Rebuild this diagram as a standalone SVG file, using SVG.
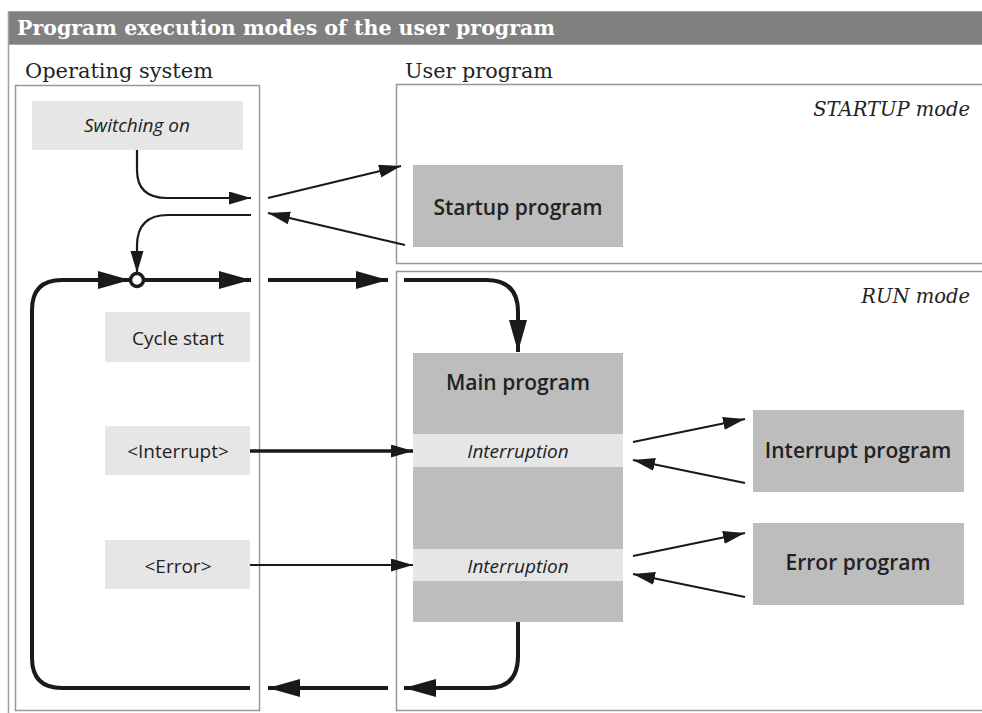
<svg xmlns="http://www.w3.org/2000/svg" width="982" height="713" viewBox="0 0 982 713">
<defs>
<style>
.frame{fill:none;stroke:#a0a0a0;stroke-width:1.5}
.box{fill:none;stroke:#999;stroke-width:1.5}
.light{fill:#e6e6e6}
.dark{fill:#bdbdbd}
.band{fill:#e6e6e6}
.serif{font-family:"DejaVu Serif","Liberation Serif",serif;fill:#222}
.sans{font-family:"Open Sans","Noto Sans","Liberation Sans",sans-serif;fill:#222}
.title{font-family:"DejaVu Serif","Liberation Serif",serif;font-weight:bold;fill:#fff;font-size:21px}
.thin{fill:none;stroke:#1a1a1a;stroke-width:2.2;marker-end:url(#ah)}
.mid{fill:none;stroke:#1a1a1a;stroke-width:3.5;marker-end:url(#ah)}
.thick{fill:none;stroke:#1a1a1a;stroke-width:4;marker-end:url(#ahb)}
.reg{font-size:19px}
.bold{font-size:21px;font-weight:600}
</style>
<marker id="ah" markerUnits="userSpaceOnUse" markerWidth="24" markerHeight="14" refX="22" refY="6.5" orient="auto">
<path d="M0,0 L22,6.5 L0,13 z" fill="#1a1a1a"/>
</marker>
<marker id="ahb" markerUnits="userSpaceOnUse" markerWidth="34" markerHeight="20" refX="32" refY="9" orient="auto">
<path d="M0,0 L32,9 L0,18 z" fill="#1a1a1a"/>
</marker>
</defs>
<rect width="982" height="713" fill="#fff"/>

<g id="frame">
<rect x="8.5" y="11.5" width="980" height="33" fill="#808080" stroke="#a8a8a8" stroke-width="1"/>
<line x1="8.5" y1="11" x2="8.5" y2="713" class="frame"/>
<text x="17" y="35" class="title" textLength="538" lengthAdjust="spacingAndGlyphs">Program execution modes of the user program</text>
</g>

<g id="os">
<rect x="15.5" y="85.5" width="244" height="625" class="box"/>
<text x="25" y="78" class="serif" font-size="20" textLength="188" lengthAdjust="spacingAndGlyphs">Operating system</text>
</g>

<g id="startup-mode">
<rect x="396.5" y="84.5" width="600" height="179" class="box"/>
<text x="405" y="78" class="serif" font-size="20" textLength="148" lengthAdjust="spacingAndGlyphs">User program</text>
<text x="970" y="116" class="serif" font-size="19.5" font-style="italic" text-anchor="end">STARTUP mode</text>
</g>

<g id="run-mode">
<rect x="396.5" y="271.5" width="600" height="439" class="box"/>
<text x="970" y="303" class="serif" font-size="19.5" font-style="italic" text-anchor="end">RUN mode</text>
</g>

<g id="switching-on">
<rect x="32" y="101" width="211" height="49" class="light"/>
<text x="137" y="132" class="sans reg" font-style="italic" text-anchor="middle">Switching on</text>
</g>

<g id="startup-program">
<rect x="413" y="165" width="210" height="82" class="dark"/>
<text x="518" y="215" class="sans bold" text-anchor="middle">Startup program</text>
</g>

<g id="cycle-start">
<rect x="105" y="312" width="145" height="50" class="light"/>
<text x="178" y="345" class="sans reg" text-anchor="middle">Cycle start</text>
</g>

<g id="interrupt">
<rect x="105" y="426" width="145" height="49" class="light"/>
<text x="178" y="458" class="sans reg" text-anchor="middle">&lt;Interrupt&gt;</text>
</g>

<g id="error">
<rect x="105" y="540" width="145" height="49" class="light"/>
<text x="178" y="573" class="sans reg" text-anchor="middle">&lt;Error&gt;</text>
</g>

<g id="main-program">
<rect x="413" y="353" width="210" height="269" class="dark"/>
<rect x="413" y="434" width="210" height="33" class="band"/>
<rect x="413" y="549" width="210" height="32" class="band"/>
<text x="518" y="390" class="sans bold" text-anchor="middle">Main program</text>
<text x="518" y="458" class="sans reg" font-style="italic" text-anchor="middle">Interruption</text>
<text x="518" y="573" class="sans reg" font-style="italic" text-anchor="middle">Interruption</text>
</g>

<g id="interrupt-program">
<rect x="753" y="410" width="211" height="82" class="dark"/>
<text x="858" y="458" class="sans bold" text-anchor="middle">Interrupt program</text>
</g>

<g id="error-program">
<rect x="753" y="523" width="211" height="82" class="dark"/>
<text x="858" y="570" class="sans bold" text-anchor="middle">Error program</text>
</g>

<g id="connectors">
<path d="M137,150 V170 Q137,198 167,198 H251" class="thin"/>
<path d="M268,198 L401,166" class="thin"/>
<path d="M405,245 L268,213" class="thin"/>
<path d="M251,215 H168 Q137,215 137,246 V273" class="thin"/>
<path d="M144,280 H251" class="thick"/>
<path d="M268,280 H388" class="thick"/>
<path d="M404,280 H486 Q518,280 518,312 V352" class="thick"/>
<path d="M518,622 V656 Q518,688 488,688 H404" class="thick"/>
<path d="M388,688 H268" class="thick"/>
<path d="M250,688 H62 Q32,688 32,658 V310 Q32,280 62,280 H130" class="thick"/>
<circle cx="137" cy="280" r="6.5" fill="#fff" stroke="#1a1a1a" stroke-width="3.5"/>
<path d="M250,451 H413" class="mid"/>
<path d="M250,565 H413" class="thin"/>
<path d="M633,442 L745,419" class="thin"/>
<path d="M745,483 L633,460" class="thin"/>
<path d="M633,556 L745,533" class="thin"/>
<path d="M745,597 L633,574" class="thin"/>
</g>
</svg>
